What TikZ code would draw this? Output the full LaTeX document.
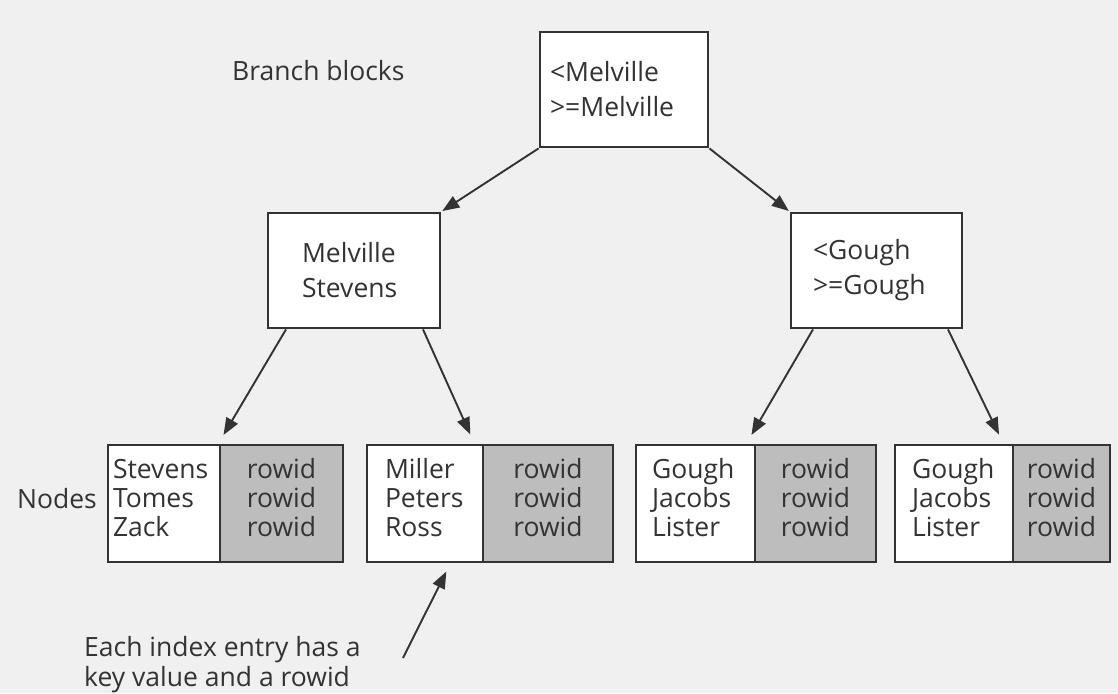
\documentclass[tikz,border=0pt]{standalone}
\usepackage{fontspec}
\setmainfont{Open Sans}
\usetikzlibrary{arrows.meta}
\definecolor{ink}{HTML}{333333}
\definecolor{paper}{HTML}{F0F0F0}
\definecolor{shade}{HTML}{BDBDBD}
\tikzset{
  branchbox/.style={draw=ink, line width=2.8pt, fill=white, minimum height=115pt,
    align=left, text=ink, font=\fontsize{26.5}{35}\selectfont},
  cell/.style={draw=ink, line width=2.8pt, minimum height=117pt,
    text=ink, font=\fontsize{26.5}{29}\selectfont},
  keycell/.style={cell, fill=white, align=left, text height=20pt, text depth=70pt},
  ridcell/.style={cell, fill=shade, align=center, inner xsep=0pt, text depth=12pt},
  arr/.style={draw=ink, line width=1.9pt, -{Triangle[length=17pt,width=13pt]}, shorten >=10pt},
  lbl/.style={text=ink, font=\fontsize{26.5}{30}\selectfont, align=left, inner sep=0pt}
}
\begin{document}
\begin{tikzpicture}[x=1pt,y=-1pt]
	\fill [paper] (0,0) rectangle (1118,693);
	\useasboundingbox (0,0) rectangle (1118,693);

	%branch blocks
	\node [lbl,anchor=base west] (branchlbl) at (232,80) {Branch blocks};
	\node [branchbox,minimum width=168pt,text width=148pt,inner xsep=10pt] (root) at (624,89.5) {<Melville\\>=Melville};
	\node [branchbox,minimum width=172pt,text width=104pt,inner xsep=34pt] (melb) at (354,270.5) {Melville\\Stevens};
	\node [branchbox,minimum width=171pt,text width=127pt,inner xsep=22pt] (goub) at (876.5,270.5) {<Gough\\>=Gough};

	%leaf blocks
	\node [lbl,anchor=base east] (nodeslbl) at (97,508) {Nodes};
	\node [keycell,minimum width=112pt,text width=102pt,inner xsep=5pt] (l1k) at (164,503.5) {Stevens\\Tomes\\Zack};
	\node [ridcell,minimum width=123pt] (l1r) at (281.5,503.5) {rowid\\rowid\\rowid};
	\node [keycell,minimum width=116pt,text width=80pt,inner xsep=18pt] (l2k) at (425,503.5) {Miller\\Peters\\Ross};
	\node [ridcell,minimum width=130pt] (l2r) at (548,503.5) {rowid\\rowid\\rowid};
	\node [keycell,minimum width=119pt,text width=87pt,inner xsep=16pt] (l3k) at (695.5,503.5) {Gough\\Jacobs\\Lister};
	\node [ridcell,minimum width=121pt] (l3r) at (815.5,503.5) {rowid\\rowid\\rowid};
	\node [keycell,minimum width=118pt,text width=84pt,inner xsep=17pt] (l4k) at (954,503.5) {Gough\\Jacobs\\Lister};
	\node [ridcell,minimum width=97pt] (l4r) at (1061.5,503.5) {rowid\\rowid\\rowid};

	\draw [arr,shorten >=1pt] (root.south west) -- (melb.north east);
	\draw [arr,shorten >=1pt] (root.south east) -- (goub.north west);
	\draw [arr] ([xshift=-68pt]melb.south) -- ([xshift=-3pt]l1k.north east);
	\draw [arr] ([xshift=69pt]melb.south) -- ([xshift=-10pt]l2k.north east);
	\draw [arr] ([xshift=-63.5pt]goub.south) -- ([xshift=-10pt]l3k.north east);
	\draw [arr] ([xshift=71.5pt]goub.south) -- ([xshift=-11pt]l4k.north east);

	%annotation
	\node [lbl,anchor=west] (note) at (84,665) {Each index entry has a\\key value and a rowid};
	\coordinate (notetail) at (403,658);
	\draw [arr,shorten >=9pt] (notetail) -- ([xshift=-34pt]l2k.south east);
\end{tikzpicture}
\end{document}
